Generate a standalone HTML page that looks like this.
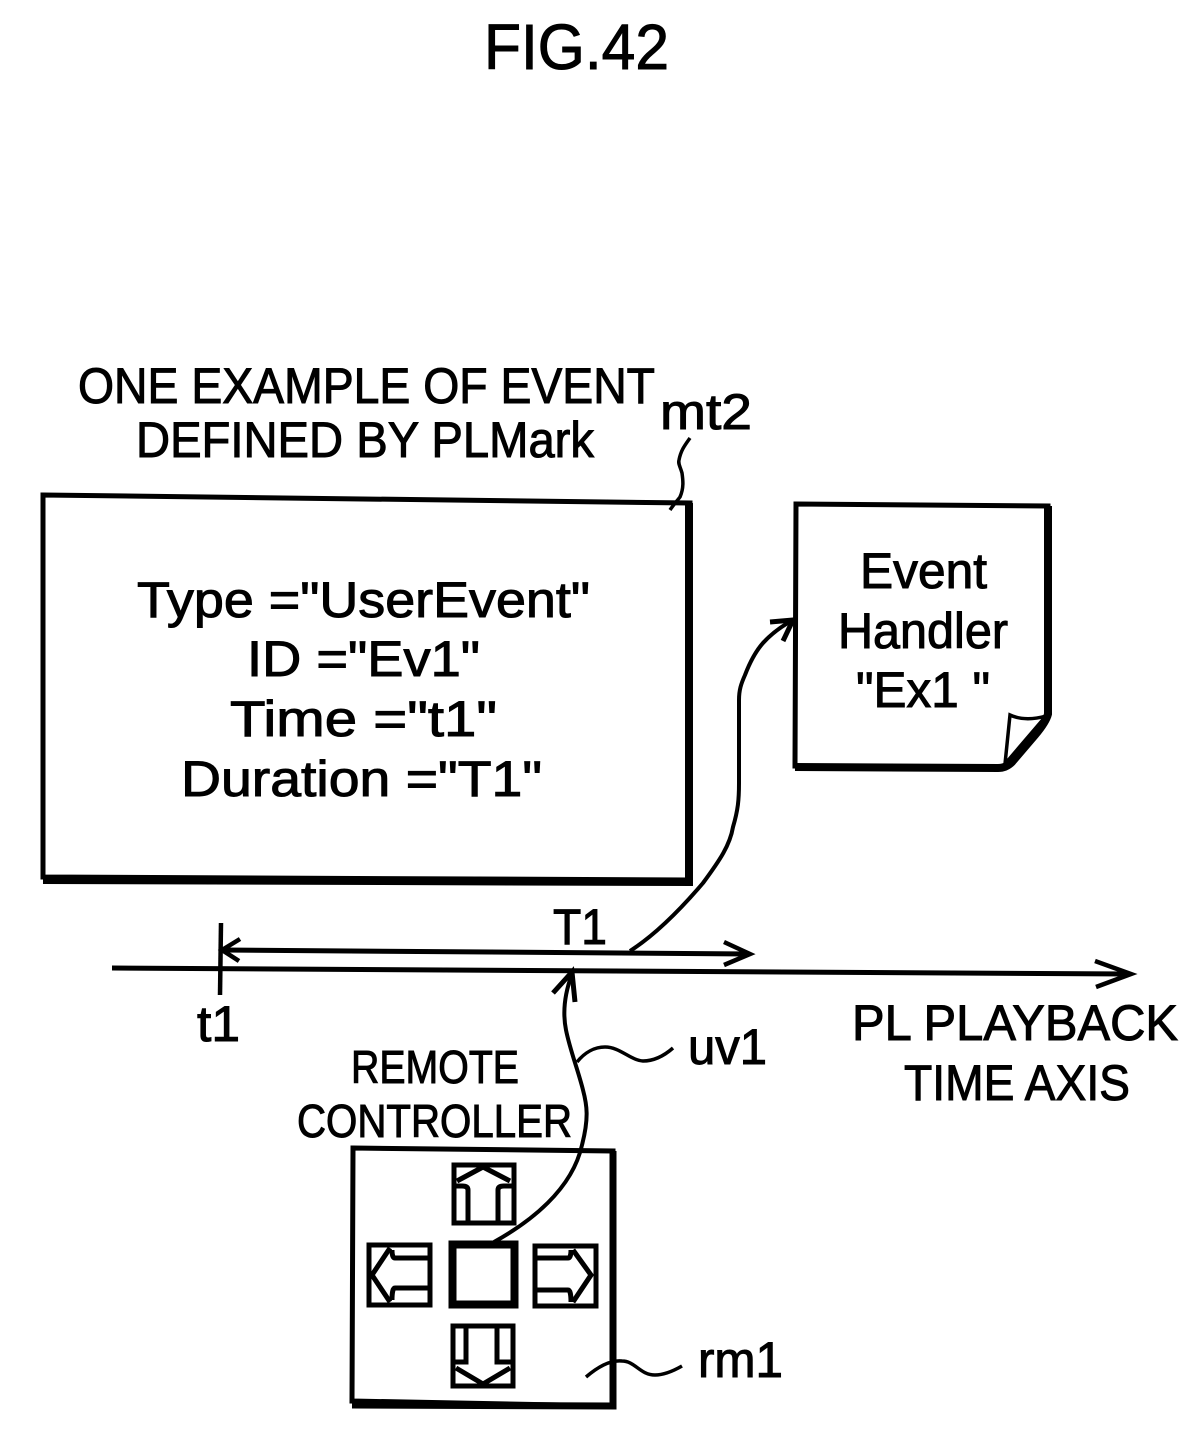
<!DOCTYPE html>
<html>
<head>
<meta charset="utf-8">
<style>
html,body{margin:0;padding:0;background:#fff;width:1199px;height:1439px;overflow:hidden}
svg{display:block}
text{font-family:"Liberation Sans",sans-serif;fill:#000;stroke:#000;stroke-width:1}
</style>
</head>
<body>
<svg width="1199" height="1439" viewBox="0 0 1199 1439" xmlns="http://www.w3.org/2000/svg">
<rect width="1199" height="1439" fill="#fff"/>

<text x="484" y="69" font-size="64" textLength="185" lengthAdjust="spacingAndGlyphs">FIG.42</text>
<text x="78" y="403" font-size="50" textLength="577" lengthAdjust="spacingAndGlyphs">ONE EXAMPLE OF EVENT</text>
<text x="136" y="457" font-size="50" textLength="458" lengthAdjust="spacingAndGlyphs">DEFINED BY PLMark</text>
<text x="660" y="429" font-size="50" textLength="92" lengthAdjust="spacingAndGlyphs">mt2</text>

<!-- Main box -->
<path d="M43 495 L690 503 L689 880 L43 877 Z" fill="#fff" stroke="#000" stroke-width="5"/>
<path d="M689 503 L689 882 L43 880" fill="none" stroke="#000" stroke-width="8"/>
<path d="M670 510 C674 504 677 501 680 497 C684 488 683 480 682 473 C680 466 678 464 679 460 C681 450 685 445 690 438" fill="none" stroke="#000" stroke-width="3.5"/>

<text x="137" y="617" font-size="50" textLength="453" lengthAdjust="spacingAndGlyphs">Type ="UserEvent"</text>
<text x="247" y="676" font-size="50" textLength="233" lengthAdjust="spacingAndGlyphs">ID ="Ev1"</text>
<text x="230" y="736" font-size="50" textLength="267" lengthAdjust="spacingAndGlyphs">Time ="t1"</text>
<text x="181" y="796" font-size="50" textLength="361" lengthAdjust="spacingAndGlyphs">Duration ="T1"</text>

<!-- Document -->
<path d="M796 504 L1048 506 L1048 714 L1005 768 L795 766 Z" fill="#fff" stroke="#000" stroke-width="5"/>
<path d="M1048 506 L1048 714 Q1046 722 1035 735 L1012 762 Q1006 768 998 768 L795 767" fill="none" stroke="#000" stroke-width="8"/>
<path d="M1010 715 Q1025 722 1046 716 L1005 764 Z" fill="#fff" stroke="#000" stroke-width="3.5"/>
<text x="860" y="588" font-size="50" textLength="127" lengthAdjust="spacingAndGlyphs">Event</text>
<text x="838" y="648" font-size="50" textLength="170" lengthAdjust="spacingAndGlyphs">Handler</text>
<text x="856" y="707" font-size="50" textLength="134" lengthAdjust="spacingAndGlyphs">"Ex1 "</text>

<!-- Timeline -->
<path d="M112 968 L1130 974" fill="none" stroke="#000" stroke-width="5"/>
<path d="M1095 961 L1131 974 L1096 987" fill="none" stroke="#000" stroke-width="4.5"/>
<path d="M221 923 L220 995" fill="none" stroke="#000" stroke-width="4.5"/>
<path d="M222 950 L750 954" fill="none" stroke="#000" stroke-width="5"/>
<path d="M240 939 L222 950 L239 961" fill="none" stroke="#000" stroke-width="4.5"/>
<path d="M724 942 L750 954 L724 965" fill="none" stroke="#000" stroke-width="4.5"/>
<text x="553" y="944" font-size="50" textLength="54" lengthAdjust="spacingAndGlyphs">T1</text>
<text x="197" y="1041" font-size="50" textLength="43" lengthAdjust="spacingAndGlyphs">t1</text>
<text x="852" y="1040" font-size="50" textLength="326" lengthAdjust="spacingAndGlyphs">PL PLAYBACK</text>
<text x="904" y="1100" font-size="50" textLength="226" lengthAdjust="spacingAndGlyphs">TIME AXIS</text>

<!-- Curved connector to document -->
<path d="M630 951 C655 935 680 910 703 883 C720 860 730 845 733 827 C738 810 739 800 739 783 L739 700 C739 690 741 684 745 675 C750 662 755 652 763 643 C772 633 782 626 793 620" fill="none" stroke="#000" stroke-width="4"/>
<path d="M770 622 L793 620 L783 641" fill="none" stroke="#000" stroke-width="5"/>

<!-- Remote connector -->
<path d="M494 1242 C530 1222 572 1190 582 1145 C589 1118 587 1105 583 1090 C578 1070 570 1050 566 1030 C562 1010 566 990 572 974" fill="none" stroke="#000" stroke-width="4"/>
<path d="M553 993 L572 972 L575 1002" fill="none" stroke="#000" stroke-width="5"/>
<path d="M577 1062 C585 1052 595 1047 605 1047 C620 1047 630 1060 643 1061 C655 1061 665 1055 673 1048" fill="none" stroke="#000" stroke-width="3.5"/>
<text x="688" y="1064" font-size="50" textLength="79" lengthAdjust="spacingAndGlyphs">uv1</text>

<text x="351" y="1083" font-size="46" textLength="168" lengthAdjust="spacingAndGlyphs">REMOTE</text>
<text x="297" y="1137" font-size="46" textLength="275" lengthAdjust="spacingAndGlyphs">CONTROLLER</text>

<!-- Remote box -->
<path d="M353 1148 L613 1151 L612 1406 L352 1401 Z" fill="none" stroke="#000" stroke-width="5"/>
<path d="M613 1151 L613 1406 L352 1405" fill="none" stroke="#000" stroke-width="7"/>

<!-- Center button -->
<rect x="452.500" y="1244.500" width="62" height="60" fill="#fff" stroke="#000" stroke-width="8"/>

<g fill="none" stroke="#000" stroke-width="5">
<!-- Up -->
<rect x="454" y="1165" width="60" height="58"/>
<path d="M457 1181 L483 1167 L510 1181"/>
<path d="M468 1222 L468 1190 Q468 1186 462 1186 L456 1186"/>
<path d="M498 1222 L498 1190 Q498 1186 504 1186 L512 1186"/>
<!-- Down -->
<rect x="453" y="1326" width="60" height="60"/>
<path d="M456 1368 L483 1384 L510 1368"/>
<path d="M466 1327 L466 1362 L455 1362"/>
<path d="M497 1327 L497 1362 L511 1362"/>
<!-- Left -->
<rect x="369" y="1245" width="61" height="60"/>
<path d="M390 1248 L372 1275 L390 1302"/>
<path d="M429 1258 L395 1258 Q392 1258 392 1250"/>
<path d="M429 1288 L395 1288 Q392 1288 392 1300"/>
<!-- Right -->
<rect x="535" y="1246" width="61" height="60"/>
<path d="M573 1250 L591 1275 L573 1302"/>
<path d="M536 1258 L568 1258 Q571 1258 571 1250"/>
<path d="M536 1290 L568 1290 Q571 1290 571 1302"/>
</g>

<!-- rm1 leader -->
<path d="M586 1377 C600 1365 612 1360 622 1361 C635 1361 640 1375 655 1375 C665 1375 675 1370 682 1366" fill="none" stroke="#000" stroke-width="3.5"/>
<text x="698" y="1377" font-size="50" textLength="85" lengthAdjust="spacingAndGlyphs">rm1</text>
</svg>
</body>
</html>
